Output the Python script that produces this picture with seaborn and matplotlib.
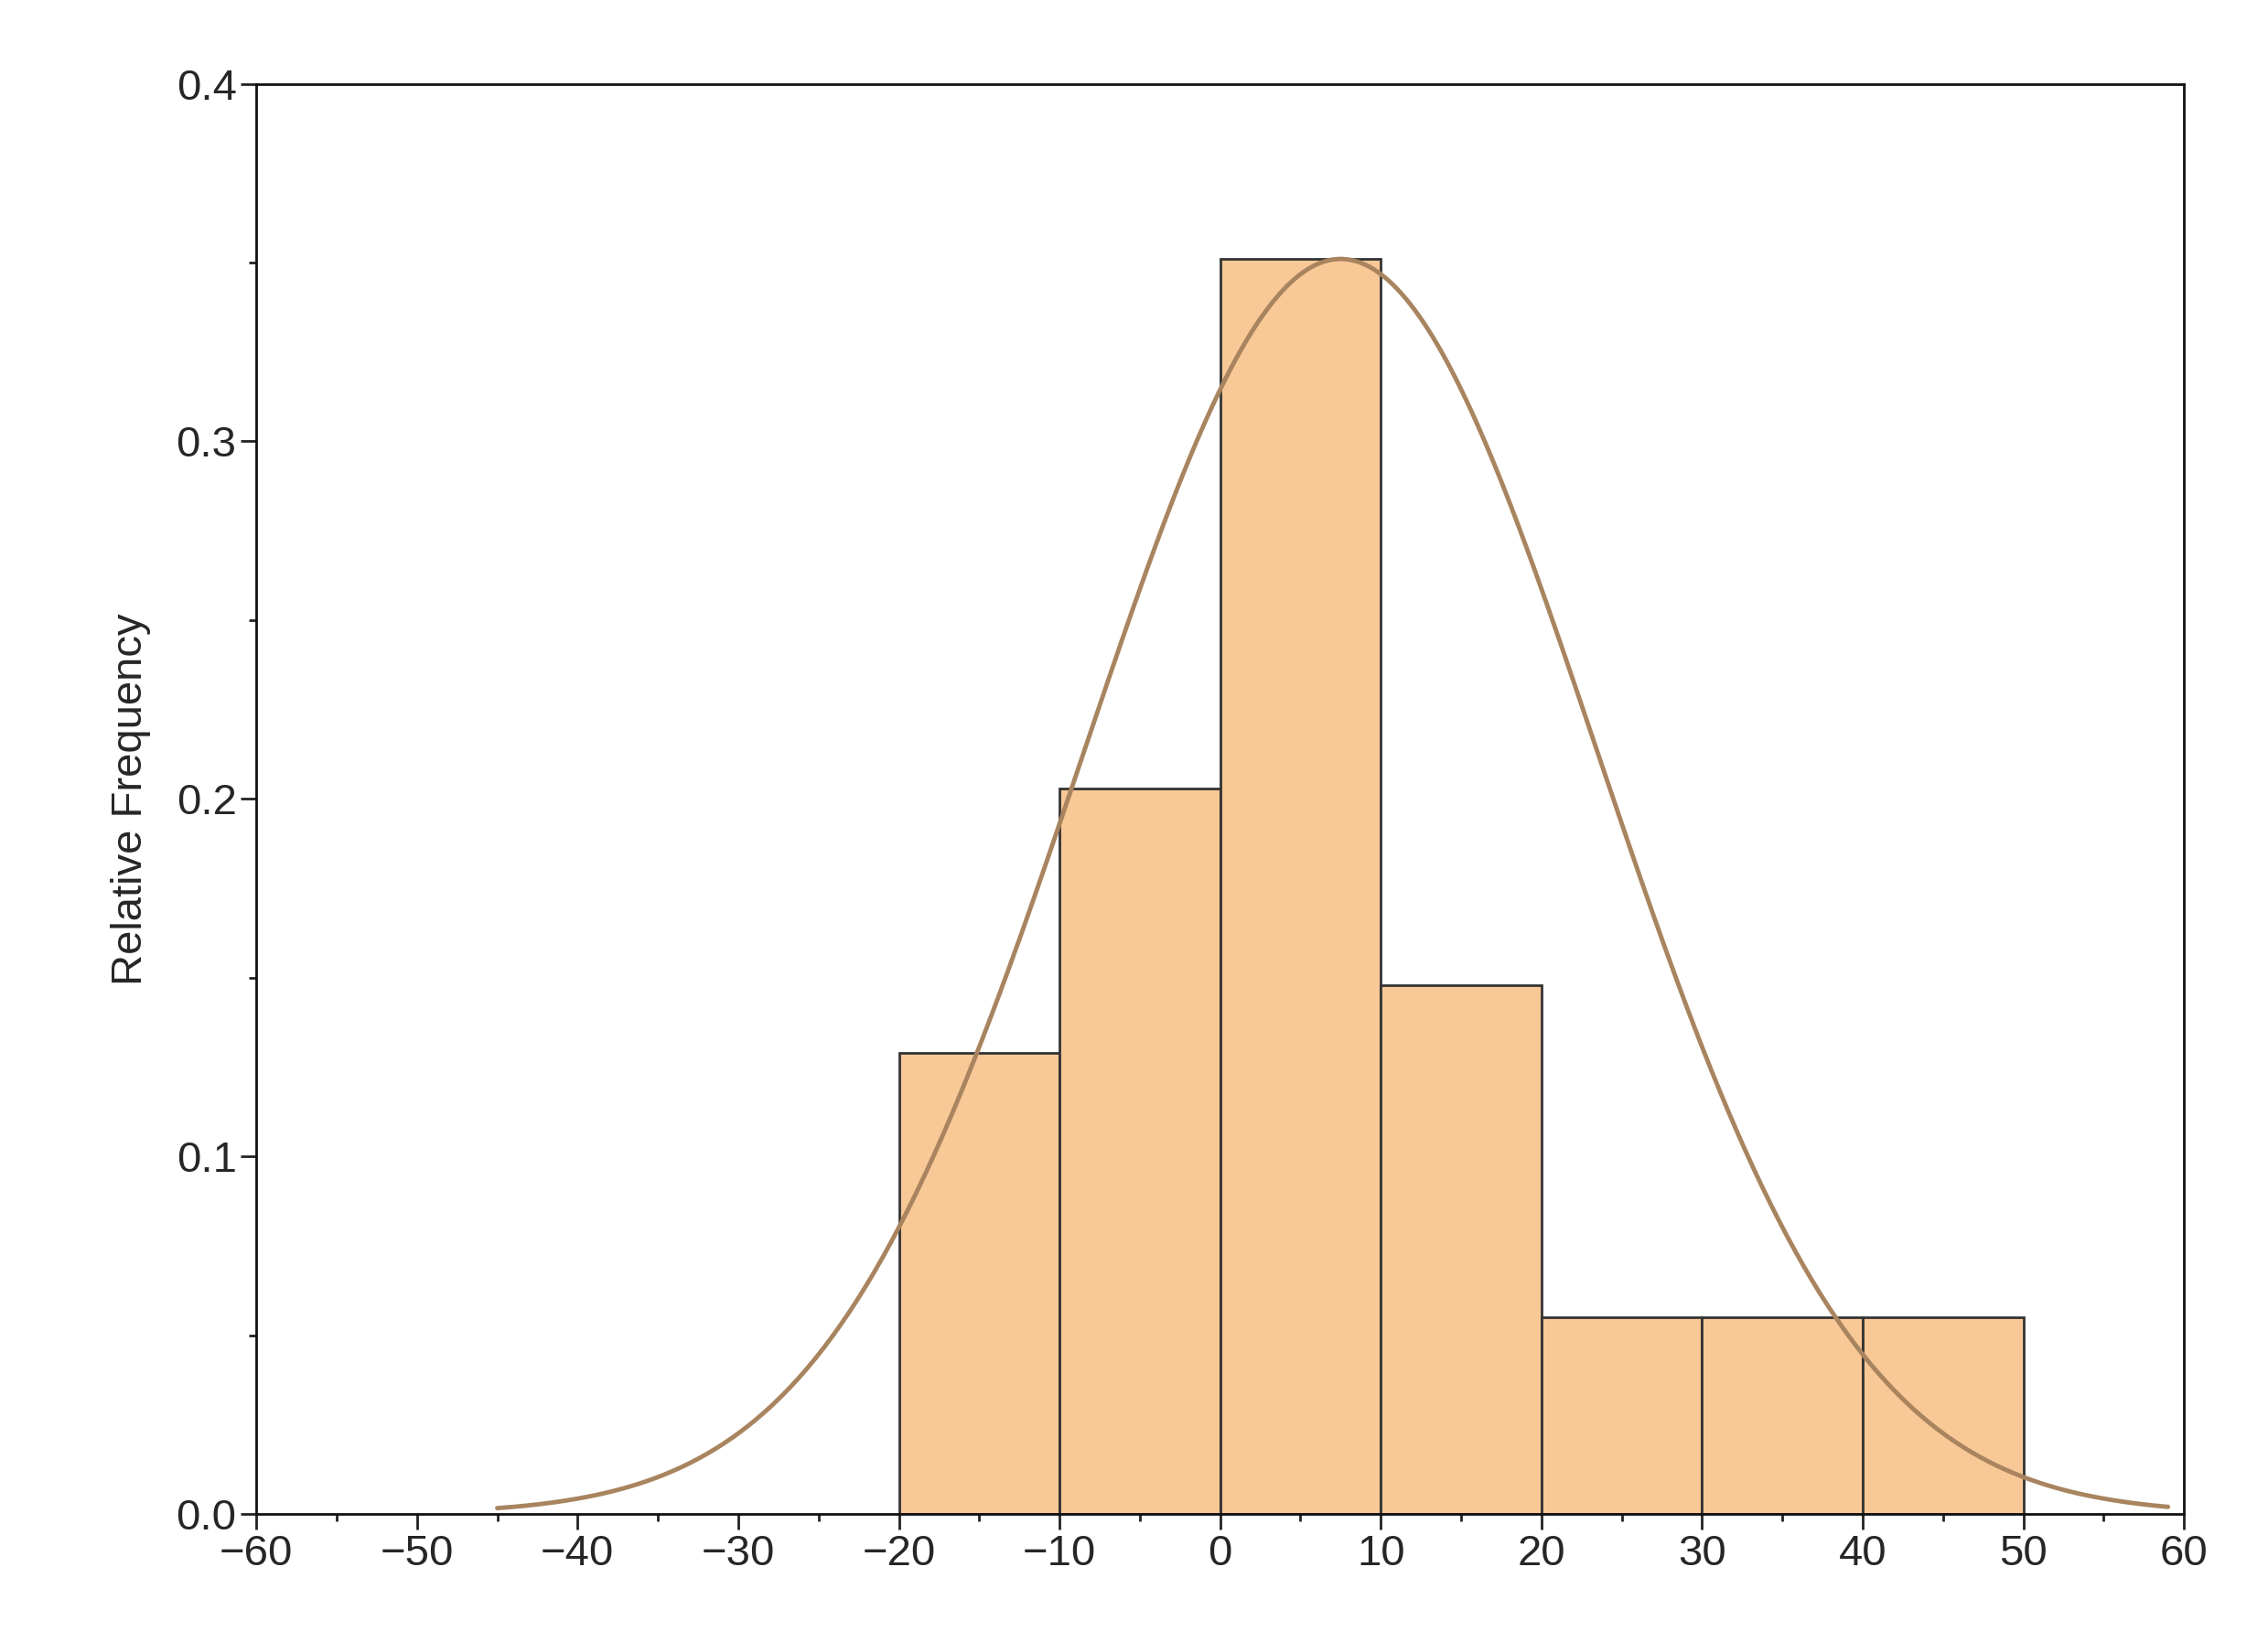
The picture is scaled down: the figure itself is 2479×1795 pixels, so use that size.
import numpy as np
import seaborn as sns
import matplotlib.pyplot as plt
from matplotlib.ticker import MultipleLocator

# histogram bins and relative frequencies
bin_edges = [-20, -10, 0, 10, 20, 30, 40, 50]
rel_freq = [0.129, 0.203, 0.351, 0.148, 0.055, 0.055, 0.055]

# fitted normal curve parameters
curve_mean = 7.5
curve_sd = 16.0
curve_peak = 0.351
curve_range = (-45, 59)

sns.set_style("ticks")
plt.rcParams['font.family'] = ['Liberation Sans', 'DejaVu Sans']

fig = plt.figure(figsize=(24.79, 17.95), dpi=100)
ax = fig.add_axes([0.113, 0.078, 0.85, 0.871])

centers = [(a + b) / 2 for a, b in zip(bin_edges[:-1], bin_edges[1:])]
sns.histplot(x=centers, weights=rel_freq, bins=bin_edges, ax=ax,
             color='#F9C897', alpha=1, edgecolor='#333333', linewidth=2)

xs = np.linspace(curve_range[0], curve_range[1], 400)
ys = curve_peak * np.exp(-(xs - curve_mean) ** 2 / (2 * curve_sd ** 2))
sns.lineplot(x=xs, y=ys, ax=ax, color='#A8845F', linewidth=3.5)

ax.set_xlim(-60, 60)
ax.set_ylim(0, 0.4)
ax.xaxis.set_major_locator(MultipleLocator(10))
ax.xaxis.set_minor_locator(MultipleLocator(5))
ax.yaxis.set_major_locator(MultipleLocator(0.1))
ax.yaxis.set_minor_locator(MultipleLocator(0.05))
ax.set_xticklabels([f"{int(v)}".replace('-', '\u2212') for v in ax.get_xticks()])
ax.set_yticklabels([f"{v:.1f}" for v in ax.get_yticks()])
ax.tick_params(which='major', length=12, width=2, labelsize=34, color='#222222')
ax.tick_params(which='minor', length=6, width=2, color='#222222')
for s in ax.spines.values():
    s.set_linewidth(2)
    s.set_color('#111111')
ax.set_xlabel('')
ax.set_ylabel('Relative Frequency', fontsize=34, labelpad=20)

fig.savefig('out.png', dpi=100)
